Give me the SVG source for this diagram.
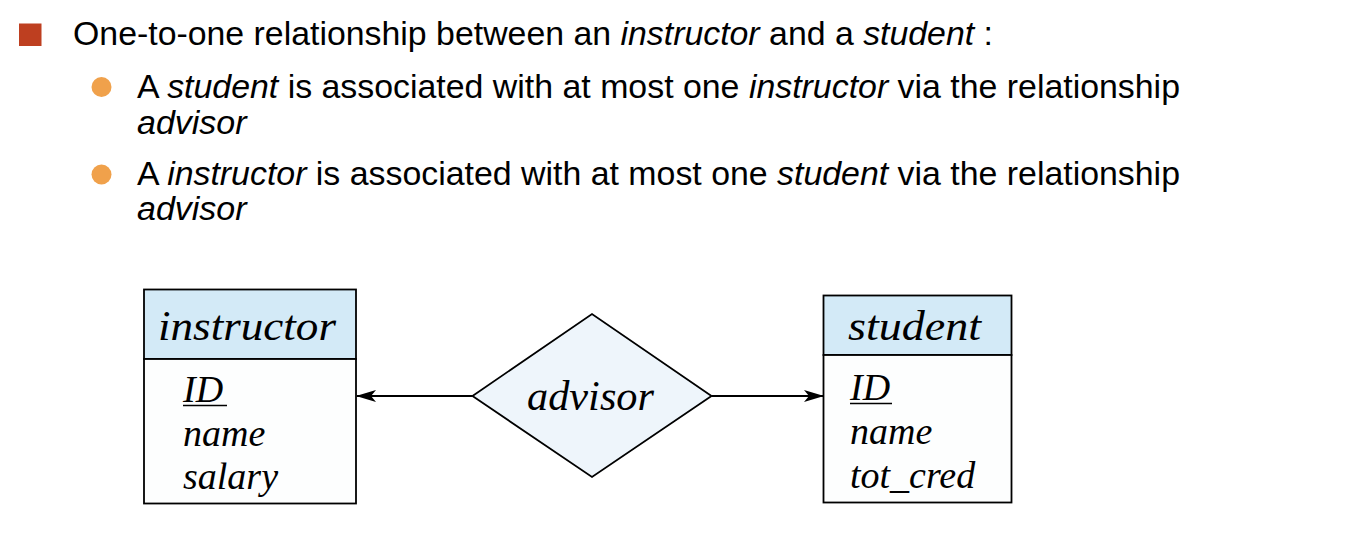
<svg xmlns="http://www.w3.org/2000/svg" width="1350" height="556" viewBox="0 0 1350 556">
<defs>
<style>
.sans{font-family:"Liberation Sans",Arial,sans-serif;fill:#000}
.h{font-size:34px}
.b{font-size:34px}
.i{font-style:italic}
.er{font-family:"Liberation Serif","Times New Roman",serif;font-style:italic;fill:#000}
.title{font-size:42px}
.attr{font-size:38px}
.box{stroke:#000;stroke-width:1.8}
.hdr{fill:#D3EAF7}
.body{fill:#FDFEFE}
.rel{fill:#EEF5FB;stroke:#000;stroke-width:1.8}
.conn{stroke:#000;stroke-width:1.8;fill:none}
</style>
<marker id="arr" viewBox="0 0 20 12" refX="19" refY="6" markerWidth="20" markerHeight="12" markerUnits="userSpaceOnUse" orient="auto">
<path d="M0,0 L20,6 L0,12 L5,6 Z" fill="#000"/>
</marker>
</defs>
<rect width="1350" height="556" fill="#fff"/>

<g id="bullets">
<rect x="19" y="23.5" width="22.5" height="22.5" fill="#BE3F20"/>
<text class="sans h" x="73" y="45" textLength="920" lengthAdjust="spacingAndGlyphs">One-to-one relationship between an <tspan class="i">instructor</tspan> and a <tspan class="i">student</tspan> :</text>
<circle cx="101.5" cy="87" r="10" fill="#F0A14B"/>
<text class="sans b" x="137" y="97.5" textLength="1043" lengthAdjust="spacingAndGlyphs">A <tspan class="i">student</tspan> is associated with at most one <tspan class="i">instructor</tspan> via the relationship</text>
<text class="sans b i" x="137" y="133.5">advisor</text>
<circle cx="101.5" cy="174.5" r="10" fill="#F0A14B"/>
<text class="sans b" x="137" y="184.5" textLength="1043" lengthAdjust="spacingAndGlyphs">A <tspan class="i">instructor</tspan> is associated with at most one <tspan class="i">student</tspan> via the relationship</text>
<text class="sans b i" x="137" y="220">advisor</text>
</g>

<g id="connectors">
<line class="conn" x1="472.5" y1="396" x2="357" y2="396" marker-end="url(#arr)"/>
<line class="conn" x1="711.5" y1="396" x2="823" y2="396" marker-end="url(#arr)"/>
</g>

<g id="instructor">
<rect class="box hdr" x="144" y="289.5" width="212" height="69.5"/>
<rect class="box body" x="144" y="359" width="212" height="144.5"/>
<text class="er title" x="158" y="340" textLength="178" lengthAdjust="spacingAndGlyphs">instructor</text>
<text class="er attr" x="183" y="402">ID</text>
<line x1="183" y1="405.5" x2="227" y2="405.5" stroke="#000" stroke-width="1.5"/>
<text class="er attr" x="183" y="446">name</text>
<text class="er attr" x="183" y="489">salary</text>
</g>

<g id="advisor">
<polygon class="rel" points="472.5,396 592,314 711.5,396 592,477"/>
<text class="er title" x="527" y="410" textLength="127" lengthAdjust="spacingAndGlyphs">advisor</text>
</g>

<g id="student">
<rect class="box hdr" x="823.5" y="295.5" width="188" height="59.5"/>
<rect class="box body" x="823.5" y="355" width="188" height="147.5"/>
<text class="er title" x="848" y="340" textLength="133" lengthAdjust="spacingAndGlyphs">student</text>
<text class="er attr" x="850" y="400">ID</text>
<line x1="850" y1="403.5" x2="892" y2="403.5" stroke="#000" stroke-width="1.5"/>
<text class="er attr" x="850" y="444">name</text>
<text class="er attr" x="850" y="488">tot_cred</text>
</g>
</svg>
